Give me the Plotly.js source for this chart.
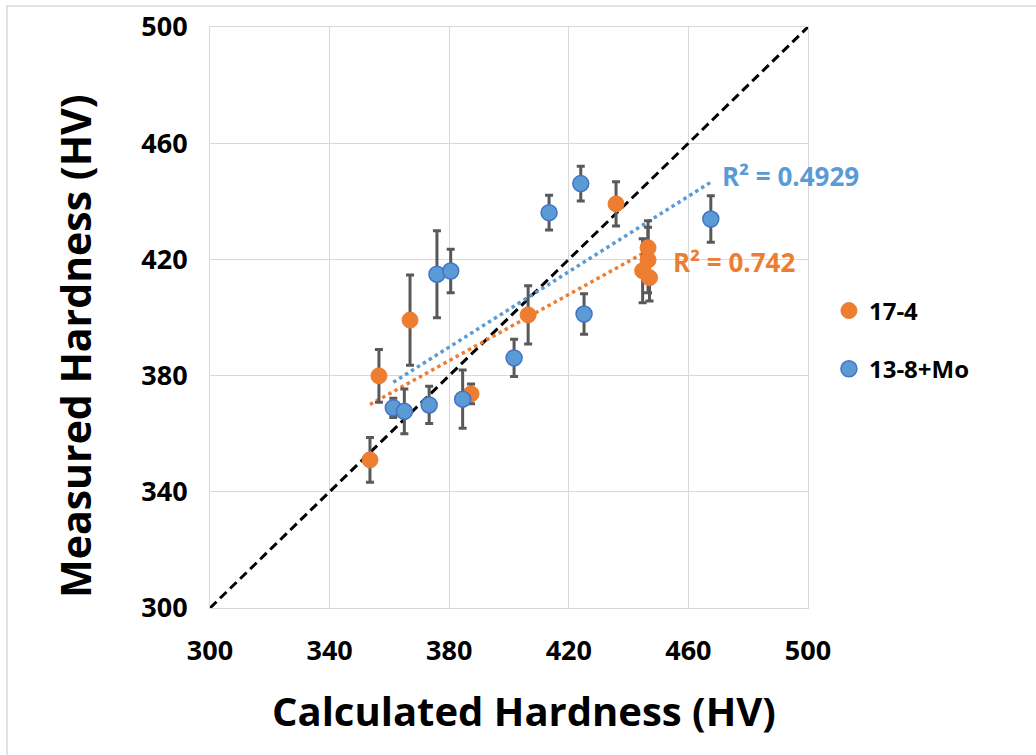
<!DOCTYPE html>
<html>
<head>
<meta charset="utf-8">
<script src="https://cdn.plot.ly/plotly-3.0.1.min.js"></script>
<style>html,body{margin:0;padding:0;background:#fff;}#chart{width:1036px;height:755px;}</style>
</head>
<body>
<div id="chart"></div>
<script>
// ---- data ----
const seriesNames = ["17-4", "13-8+Mo"];
const orangeX   = [353.5, 356.5, 366.9, 387.3, 406.4, 435.8, 446.5, 446.5, 444.7, 447.0];
const orangeY   = [351.0, 379.9, 399.1, 373.7, 400.9, 439.1, 424.0, 419.8, 416.1, 413.7];
const orangeErr = [7.7, 9.1, 15.5, 3.4, 10.0, 7.6, 9.3, 11.3, 11.0, 8.0];
const blueX   = [361.3, 365.0, 373.3, 384.5, 375.9, 380.5, 401.7, 413.4, 424.0, 425.1, 467.5];
const blueY   = [368.9, 367.7, 369.9, 371.9, 414.9, 416.0, 386.1, 436.1, 446.1, 401.2, 433.9];
const blueErr = [3.3, 7.7, 6.4, 10.0, 15.0, 7.5, 6.4, 6.0, 6.0, 7.0, 8.0];
const r2Labels = ["R² = 0.742", "R² = 0.4929"];
const parityLine = [300, 500];
const tickVals = [300, 340, 380, 420, 460, 500];
const xTitle = "Calculated Hardness (HV)";
const yTitle = "Measured Hardness (HV)";

const ORANGE = "#ED7D31", BLUE = "#5B9BD5";
const FONT = '"Open Sans", Lato, sans-serif';

function fit(xs, ys) {
  const n = xs.length;
  const mx = xs.reduce((a,b)=>a+b,0)/n, my = ys.reduce((a,b)=>a+b,0)/n;
  let sxy = 0, sxx = 0;
  for (let i=0;i<n;i++){ sxy += (xs[i]-mx)*(ys[i]-my); sxx += (xs[i]-mx)**2; }
  const m = sxy/sxx, b = my - m*mx;
  const x0 = Math.min(...xs), x1 = Math.max(...xs);
  return {x:[x0,x1], y:[m*x0+b, m*x1+b]};
}
const fo = fit(orangeX, orangeY), fb = fit(blueX, blueY);

const traces = [
  {x: parityLine, y: parityLine, mode:"lines", line:{color:"#000", width:3, dash:"9px,5px"}, showlegend:false, hoverinfo:"skip"},
  {x: fo.x, y: fo.y, mode:"lines", line:{color:ORANGE, width:3.5, dash:"dot"}, showlegend:false, hoverinfo:"skip"},
  {x: fb.x, y: fb.y, mode:"lines", line:{color:BLUE, width:3.5, dash:"dot"}, showlegend:false, hoverinfo:"skip"},
  {x: orangeX, y: orangeY, name: seriesNames[0], legendgroup:"a", mode:"markers", type:"scatter",
   marker:{color:ORANGE, size:16, line:{color:ORANGE, width:1}},
   error_y:{type:"data", array:orangeErr, visible:true, color:"#595959", thickness:3, width:4}},
  {x: blueX, y: blueY, name: seriesNames[1], legendgroup:"b", mode:"markers", type:"scatter",
   marker:{color:BLUE, size:16, line:{color:"#4472C4", width:1.5}},
   error_y:{type:"data", array:blueErr, visible:true, color:"#595959", thickness:3, width:4}}
];

const axisCommon = {
  range:[300,500], tickvals: tickVals, ticktext: tickVals.map(String),
  showgrid:true, gridcolor:"#d9d9d9", gridwidth:1, zeroline:false,
  showline:true, linecolor:"#d9d9d9", linewidth:1, mirror:true,
  ticks:"outside", tickcolor:"rgba(0,0,0,0)",
  tickfont:{family:FONT, size:27, color:"#000", weight:700}
};

const layout = {
  width:1036, height:755,
  margin:{l:210, r:228, t:27, b:147, pad:0},
  paper_bgcolor:"#fff", plot_bgcolor:"#fff",
  xaxis: Object.assign({}, axisCommon, {ticklen:19}),
  yaxis: Object.assign({}, axisCommon, {ticklen:16}),
  showlegend:true,
  legend:{x:1.035, xanchor:"left", y:0.55, yanchor:"top", traceorder:"grouped", tracegroupgap:24,
          bgcolor:"rgba(0,0,0,0)", font:{family:FONT, size:24, color:"#000", weight:700}},
  annotations:[
    {xref:"paper", yref:"paper", x:0.525, y:-0.1756, xanchor:"center", yanchor:"middle", showarrow:false,
     text:xTitle, font:{family:FONT, size:40, color:"#000", weight:700}},
    {xref:"paper", yref:"paper", x:-0.2258, y:0.451, xanchor:"center", yanchor:"middle", showarrow:false,
     textangle:-90, text:yTitle, font:{family:FONT, size:41, color:"#000", weight:700}},
    {xref:"paper", yref:"paper", x:(720-210)/598, y:(608-176)/581, xanchor:"left", yanchor:"middle", showarrow:false,
     text:r2Labels[1], font:{family:FONT, size:26, color:BLUE, weight:700}},
    {xref:"paper", yref:"paper", x:(671-210)/598, y:(608-262)/581, xanchor:"left", yanchor:"middle", showarrow:false,
     text:r2Labels[0], font:{family:FONT, size:26, color:ORANGE, weight:700}}
  ],
  shapes:[
    {type:"rect", xref:"paper", yref:"paper", x0:(7-210)/598, x1:2, y0:-2, y1:1+(27-6)/581,
     line:{color:"#d9d9d9", width:1.5}, fillcolor:"rgba(0,0,0,0)", layer:"below"}
  ]
};

Plotly.newPlot("chart", traces, layout, {displayModeBar:false, staticPlot:true});
</script>
</body>
</html>
